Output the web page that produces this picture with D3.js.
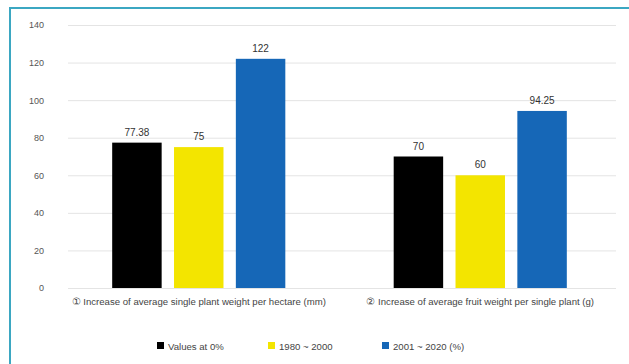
<!DOCTYPE html>
<html>
<head>
<meta charset="utf-8">
<script src="https://cdn.jsdelivr.net/npm/d3@7"></script>
<style>
  html, body { margin: 0; padding: 0; background: #fff; }
  svg { display: block; font-family: "Liberation Sans", Arial, sans-serif; }
</style>
</head>
<body>
<svg id="chart" width="629" height="364"></svg>
<script>
// ── Data ────────────────────────────────────────────────
const categories = [
  "\u2460 Increase of average single plant weight per hectare (mm)",
  "\u2461 Increase of average fruit weight per single plant (g)"
];
const seriesNames  = ["Values at 0%", "1980 ~ 2000", "2001 ~ 2020 (%)"];
const seriesColors = ["#000000", "#f3e500", "#1667b7"];
const valuesBase   = [77.38, 70];     // black
const valuesEarly  = [75, 60];        // yellow
const valuesLate   = [122, 94.25];    // blue
const valueLabels  = [["77.38", "75", "122"], ["70", "60", "94.25"]];
const yTicks       = [0, 20, 40, 60, 80, 100, 120, 140];

const svg = d3.select('#chart');

// frame
svg.append('rect')
  .attr('x', 10).attr('y', 8).attr('width', 640).attr('height', 400)
  .attr('fill', 'none').attr('stroke', '#3ba7c2').attr('stroke-width', 2);

// ── Scales ──────────────────────────────────────────────
const y = d3.scaleLinear().domain([0, 140]).range([288, 25]);
const x0 = d3.scaleBand().domain(d3.range(categories.length))
  .range([58, 621]).paddingInner(0.385).paddingOuter(0.1925);
const x1 = d3.scaleBand().domain(d3.range(seriesNames.length))
  .range([0, x0.bandwidth()]).paddingInner(0.2).paddingOuter(0);

// gridlines
svg.append('g').selectAll('line')
  .data(yTicks).join('line')
  .attr('x1', 68).attr('x2', 616)
  .attr('y1', d => y(d) + 0.5).attr('y2', d => y(d) + 0.5)
  .attr('stroke', '#e4e4e4').attr('stroke-width', 1);

// y axis labels
const yAxis = svg.append('g')
  .attr('transform', 'translate(44,0)')
  .call(d3.axisLeft(y).tickValues(yTicks).tickSize(0).tickPadding(0));
yAxis.select('.domain').remove();
yAxis.selectAll('text').attr('fill', '#555').style('font-size', '9px');

// ── Bars ────────────────────────────────────────────────
const table = categories.map((c, i) => [valuesBase[i], valuesEarly[i], valuesLate[i]]);

const groups = svg.append('g').selectAll('g')
  .data(table).join('g')
  .attr('transform', (d, i) => `translate(${x0(i)},0)`);

groups.selectAll('rect')
  .data(d => d).join('rect')
  .attr('x', (d, j) => x1(j))
  .attr('width', x1.bandwidth())
  .attr('y', d => y(d))
  .attr('height', d => y(0) - y(d))
  .attr('fill', (d, j) => seriesColors[j]);

groups.selectAll('text.val')
  .data((d, i) => d.map((v, j) => ({ v, j, label: valueLabels[i][j] })))
  .join('text')
  .attr('class', 'val')
  .attr('x', d => x1(d.j) + x1.bandwidth() / 2)
  .attr('y', d => y(d.v) - 7)
  .attr('text-anchor', 'middle')
  .attr('fill', '#333')
  .style('font-size', '10px')
  .text(d => d.label);

// category labels
svg.append('g').selectAll('text')
  .data(categories).join('text')
  .attr('x', (d, i) => x0(i) + x0.bandwidth() / 2)
  .attr('y', 305)
  .attr('text-anchor', 'middle')
  .attr('fill', '#444')
  .style('font-size', '9.6px')
  .text(d => d);

// ── Legend ──────────────────────────────────────────────
const legendX = [157, 268, 382];
const legend = svg.append('g').selectAll('g')
  .data(seriesNames).join('g')
  .attr('transform', (d, i) => `translate(${legendX[i]},346)`);
legend.append('rect')
  .attr('x', 0).attr('y', -4).attr('width', 7).attr('height', 7)
  .attr('fill', (d, i) => seriesColors[i]);
legend.append('text')
  .attr('x', 11).attr('y', 3.5)
  .attr('fill', '#444')
  .style('font-size', '9.6px')
  .text(d => d);
</script>
</body>
</html>
